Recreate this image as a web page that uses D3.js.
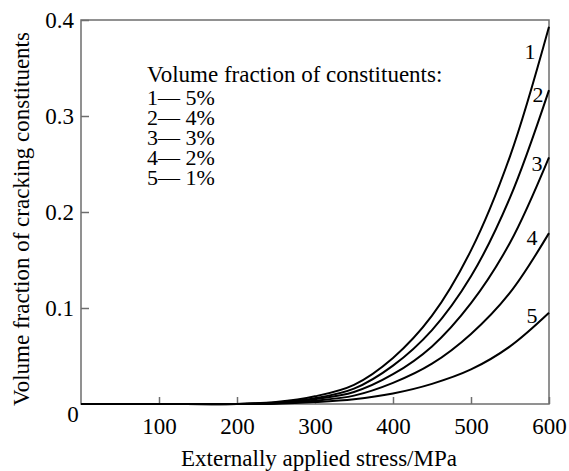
<!DOCTYPE html>
<html>
<head>
<meta charset="utf-8">
<script src="https://cdn.jsdelivr.net/npm/d3@7"></script>
<style>
  body { margin: 0; background: #fff; }
</style>
</head>
<body>
<div id="chart"></div>
<script>
const stress = [0, 100, 200, 250, 300, 350, 400, 450, 500, 550, 600];
// volume fraction of cracking constituents, one array per curve
const curve1 = [0, 0, 0, 0.002, 0.008, 0.020, 0.048, 0.092, 0.160, 0.258, 0.393];
const curve2 = [0, 0, 0, 0.0015, 0.006, 0.016, 0.040, 0.077, 0.133, 0.215, 0.327];
const curve3 = [0, 0, 0, 0.001, 0.005, 0.0125, 0.031, 0.060, 0.105, 0.168, 0.257];
const curve4 = [0, 0, 0, 0.0007, 0.0035, 0.0087, 0.022, 0.042, 0.073, 0.116, 0.178];
const curve5 = [0, 0, 0, 0.0003, 0.002, 0.005, 0.011, 0.021, 0.036, 0.060, 0.095];
const curveNames = ["1", "2", "3", "4", "5"];
const legendTitle = "Volume fraction of constituents:";
const legendRows = ["1\u2014 5%", "2\u2014 4%", "3\u2014 3%", "4\u2014 2%", "5\u2014 1%"];
const xTicks = [100, 200, 300, 400, 500, 600];
const yTicks = [0.1, 0.2, 0.3, 0.4];

const FONT = "'Liberation Serif', 'Times New Roman', serif";

function drawChart() {
    d3.select("#chart").selectAll("*").remove();

    let svg = d3.select("#chart").append("svg")
        .attr("width", 569).attr("height", 471)
        .attr("font-family", FONT);

    let x = d3.scaleLinear().domain([0, 600]).range([81, 549]);
    let y = d3.scaleLinear().domain([0, 0.4]).range([404, 20]);

    // frame
    svg.append("rect")
        .attr("x", x(0)).attr("y", y(0.4))
        .attr("width", x(600) - x(0)).attr("height", y(0) - y(0.4))
        .attr("fill", "none").attr("stroke", "#6e6e6e").attr("stroke-width", 1.5);

    // x axis, ticks pointing inward
    let xAxis = svg.append("g")
        .attr("transform", `translate(0,${y(0)})`)
        .call(d3.axisBottom(x).tickValues(xTicks).tickSize(-7).tickPadding(14)
            .tickFormat(d3.format("d")));
    xAxis.attr("font-family", FONT).attr("font-size", 23);
    xAxis.select(".domain").remove();
    xAxis.selectAll("line").attr("stroke", "#6e6e6e").attr("stroke-width", 1.5);
    xAxis.selectAll("text").attr("fill", "#000");

    // y axis
    let yAxis = svg.append("g")
        .attr("transform", `translate(${x(0)},0)`)
        .call(d3.axisLeft(y).tickValues(yTicks).tickSize(-8).tickPadding(7)
            .tickFormat(d3.format(".1f")));
    yAxis.attr("font-family", FONT).attr("font-size", 23);
    yAxis.select(".domain").remove();
    yAxis.selectAll("line").attr("stroke", "#6e6e6e").attr("stroke-width", 1.5);
    yAxis.selectAll("text").attr("fill", "#000");

    // shared zero label at the corner
    svg.append("text")
        .attr("x", x(0) - 8).attr("y", y(0) + 18)
        .attr("text-anchor", "middle")
        .attr("font-size", 23)
        .text("0");

    // axis titles
    svg.append("text")
        .attr("x", 319).attr("y", 466)
        .attr("text-anchor", "middle")
        .attr("font-size", 23)
        .text("Externally applied stress/MPa");

    svg.append("text")
        .attr("transform", "translate(29,219) rotate(-90)")
        .attr("text-anchor", "middle")
        .attr("font-size", 23)
        .text("Volume fraction of cracking constituents");

    // curves
    let series = [curve1, curve2, curve3, curve4, curve5];
    let line = d3.line()
        .x((d, i) => x(stress[i]))
        .y(d => y(d))
        .curve(d3.curveCatmullRom.alpha(0.5));

    series.forEach(vals => {
        svg.append("path")
            .attr("d", line(vals))
            .attr("fill", "none")
            .attr("stroke", "#000")
            .attr("stroke-width", 2);
    });

    // curve numbers beside the right end
    let labelDx = [-19, -11, -12, -17, -17];
    let labelDy = [25, 4, 6, 4, 2];
    series.forEach((vals, k) => {
        svg.append("text")
            .attr("x", x(600) + labelDx[k])
            .attr("y", y(vals[vals.length - 1]) + labelDy[k])
            .attr("dy", "0.35em")
            .attr("text-anchor", "middle")
            .attr("font-size", 22)
            .text(curveNames[k]);
    });

    // legend: title plus rows as one block of lines
    let legend = svg.append("text")
        .attr("x", 147).attr("y", 82)
        .attr("font-size", 22);

    legend.append("tspan")
        .attr("x", 147).attr("dy", 0)
        .attr("font-size", 23)
        .text(legendTitle);

    legendRows.forEach((row, i) => {
        legend.append("tspan")
            .attr("x", 147).attr("dy", i === 0 ? 23 : 20)
            .text(row);
    });
}

drawChart();
</script>
</body>
</html>
